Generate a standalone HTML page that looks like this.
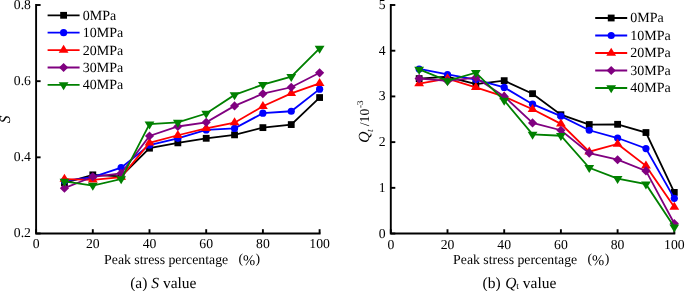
<!DOCTYPE html>
<html><head><meta charset="utf-8"><title>S and Qt values</title>
<style>
html,body{margin:0;padding:0;background:#fff;}
body{width:685px;height:291px;overflow:hidden;}
svg{display:block;font-family:"Liberation Serif",serif;will-change:transform;}
text{fill:#000;text-rendering:geometricPrecision;}
</style></head>
<body>
<svg width="685" height="291" viewBox="0 0 685 291">
<rect width="685" height="291" fill="#fff"/>
<path d="M36.10 5.00V233.50H319.60" fill="none" stroke="#000" stroke-width="1.9" stroke-linecap="square"/>
<line x1="36.10" y1="5.00" x2="40.60" y2="5.00" stroke="#000" stroke-width="1.9"/>
<text x="30.90" y="8.90" font-size="13.7" text-anchor="end">0.8</text>
<line x1="36.10" y1="81.17" x2="40.60" y2="81.17" stroke="#000" stroke-width="1.9"/>
<text x="30.90" y="85.07" font-size="13.7" text-anchor="end">0.6</text>
<line x1="36.10" y1="157.33" x2="40.60" y2="157.33" stroke="#000" stroke-width="1.9"/>
<text x="30.90" y="161.23" font-size="13.7" text-anchor="end">0.4</text>
<line x1="36.10" y1="233.50" x2="40.60" y2="233.50" stroke="#000" stroke-width="1.9"/>
<text x="30.90" y="237.40" font-size="13.7" text-anchor="end">0.2</text>
<line x1="36.10" y1="233.50" x2="36.10" y2="229.20" stroke="#000" stroke-width="1.9"/>
<text x="36.10" y="248.00" font-size="13.7" text-anchor="middle">0</text>
<line x1="92.80" y1="233.50" x2="92.80" y2="229.20" stroke="#000" stroke-width="1.9"/>
<text x="92.80" y="248.00" font-size="13.7" text-anchor="middle">20</text>
<line x1="149.50" y1="233.50" x2="149.50" y2="229.20" stroke="#000" stroke-width="1.9"/>
<text x="149.50" y="248.00" font-size="13.7" text-anchor="middle">40</text>
<line x1="206.20" y1="233.50" x2="206.20" y2="229.20" stroke="#000" stroke-width="1.9"/>
<text x="206.20" y="248.00" font-size="13.7" text-anchor="middle">60</text>
<line x1="262.90" y1="233.50" x2="262.90" y2="229.20" stroke="#000" stroke-width="1.9"/>
<text x="262.90" y="248.00" font-size="13.7" text-anchor="middle">80</text>
<line x1="319.60" y1="233.50" x2="319.60" y2="229.20" stroke="#000" stroke-width="1.9"/>
<text x="319.60" y="248.00" font-size="13.7" text-anchor="middle">100</text>
<polyline points="64.45,182.85 92.80,174.85 121.15,176.38 149.50,148.19 177.85,142.86 206.20,138.29 234.55,134.86 262.90,127.63 291.25,124.58 319.60,97.54" fill="none" stroke="#000000" stroke-width="1.8" stroke-linejoin="miter"/>
<rect x="61.05" y="179.45" width="6.8" height="6.8" fill="#000000"/>
<rect x="89.40" y="171.45" width="6.8" height="6.8" fill="#000000"/>
<rect x="117.75" y="172.98" width="6.8" height="6.8" fill="#000000"/>
<rect x="146.10" y="144.79" width="6.8" height="6.8" fill="#000000"/>
<rect x="174.45" y="139.46" width="6.8" height="6.8" fill="#000000"/>
<rect x="202.80" y="134.89" width="6.8" height="6.8" fill="#000000"/>
<rect x="231.15" y="131.46" width="6.8" height="6.8" fill="#000000"/>
<rect x="259.50" y="124.23" width="6.8" height="6.8" fill="#000000"/>
<rect x="287.85" y="121.18" width="6.8" height="6.8" fill="#000000"/>
<rect x="316.20" y="94.14" width="6.8" height="6.8" fill="#000000"/>
<polyline points="64.45,180.95 92.80,177.14 121.15,167.62 149.50,145.15 177.85,138.29 206.20,129.91 234.55,128.39 262.90,113.16 291.25,111.25 319.60,89.16" fill="none" stroke="#0000ff" stroke-width="1.8" stroke-linejoin="miter"/>
<circle cx="64.45" cy="180.95" r="3.6" fill="#0000ff"/>
<circle cx="92.80" cy="177.14" r="3.6" fill="#0000ff"/>
<circle cx="121.15" cy="167.62" r="3.6" fill="#0000ff"/>
<circle cx="149.50" cy="145.15" r="3.6" fill="#0000ff"/>
<circle cx="177.85" cy="138.29" r="3.6" fill="#0000ff"/>
<circle cx="206.20" cy="129.91" r="3.6" fill="#0000ff"/>
<circle cx="234.55" cy="128.39" r="3.6" fill="#0000ff"/>
<circle cx="262.90" cy="113.16" r="3.6" fill="#0000ff"/>
<circle cx="291.25" cy="111.25" r="3.6" fill="#0000ff"/>
<circle cx="319.60" cy="89.16" r="3.6" fill="#0000ff"/>
<polyline points="64.45,179.04 92.80,179.80 121.15,177.14 149.50,142.86 177.85,135.25 206.20,128.39 234.55,122.68 262.90,106.30 291.25,93.35 319.60,83.45" fill="none" stroke="#ff0000" stroke-width="1.8" stroke-linejoin="miter"/>
<path d="M64.45 173.71L69.35 181.71L59.55 181.71Z" fill="#ff0000"/>
<path d="M92.80 174.47L97.70 182.47L87.90 182.47Z" fill="#ff0000"/>
<path d="M121.15 171.80L126.05 179.80L116.25 179.80Z" fill="#ff0000"/>
<path d="M149.50 137.53L154.40 145.53L144.60 145.53Z" fill="#ff0000"/>
<path d="M177.85 129.91L182.75 137.91L172.95 137.91Z" fill="#ff0000"/>
<path d="M206.20 123.06L211.10 131.06L201.30 131.06Z" fill="#ff0000"/>
<path d="M234.55 117.34L239.45 125.34L229.65 125.34Z" fill="#ff0000"/>
<path d="M262.90 100.97L267.80 108.97L258.00 108.97Z" fill="#ff0000"/>
<path d="M291.25 88.02L296.15 96.02L286.35 96.02Z" fill="#ff0000"/>
<path d="M319.60 78.12L324.50 86.12L314.70 86.12Z" fill="#ff0000"/>
<polyline points="64.45,188.18 92.80,176.76 121.15,173.33 149.50,136.01 177.85,126.49 206.20,122.30 234.55,105.92 262.90,93.73 291.25,87.26 319.60,72.79" fill="none" stroke="#800080" stroke-width="1.8" stroke-linejoin="miter"/>
<path d="M64.45 183.58L69.05 188.18L64.45 192.78L59.85 188.18Z" fill="#800080"/>
<path d="M92.80 172.16L97.40 176.76L92.80 181.36L88.20 176.76Z" fill="#800080"/>
<path d="M121.15 168.73L125.75 173.33L121.15 177.93L116.55 173.33Z" fill="#800080"/>
<path d="M149.50 131.41L154.10 136.01L149.50 140.61L144.90 136.01Z" fill="#800080"/>
<path d="M177.85 121.89L182.45 126.49L177.85 131.09L173.25 126.49Z" fill="#800080"/>
<path d="M206.20 117.70L210.80 122.30L206.20 126.90L201.60 122.30Z" fill="#800080"/>
<path d="M234.55 101.32L239.15 105.92L234.55 110.52L229.95 105.92Z" fill="#800080"/>
<path d="M262.90 89.13L267.50 93.73L262.90 98.33L258.30 93.73Z" fill="#800080"/>
<path d="M291.25 82.66L295.85 87.26L291.25 91.86L286.65 87.26Z" fill="#800080"/>
<path d="M319.60 68.19L324.20 72.79L319.60 77.39L315.00 72.79Z" fill="#800080"/>
<polyline points="64.45,181.33 92.80,185.52 121.15,179.04 149.50,124.20 177.85,122.30 206.20,113.54 234.55,94.88 262.90,84.59 291.25,76.60 319.60,48.41" fill="none" stroke="#008000" stroke-width="1.8" stroke-linejoin="miter"/>
<path d="M64.45 186.66L69.35 178.66L59.55 178.66Z" fill="#008000"/>
<path d="M92.80 190.85L97.70 182.85L87.90 182.85Z" fill="#008000"/>
<path d="M121.15 184.37L126.05 176.37L116.25 176.37Z" fill="#008000"/>
<path d="M149.50 129.53L154.40 121.53L144.60 121.53Z" fill="#008000"/>
<path d="M177.85 127.63L182.75 119.63L172.95 119.63Z" fill="#008000"/>
<path d="M206.20 118.87L211.10 110.87L201.30 110.87Z" fill="#008000"/>
<path d="M234.55 100.21L239.45 92.21L229.65 92.21Z" fill="#008000"/>
<path d="M262.90 89.93L267.80 81.93L258.00 81.93Z" fill="#008000"/>
<path d="M291.25 81.93L296.15 73.93L286.35 73.93Z" fill="#008000"/>
<path d="M319.60 53.75L324.50 45.75L314.70 45.75Z" fill="#008000"/>
<line x1="47.60" y1="15.30" x2="79.60" y2="15.30" stroke="#000000" stroke-width="1.8"/>
<rect x="60.20" y="11.90" width="6.8" height="6.8" fill="#000000"/>
<text x="82.70" y="19.70" font-size="14.0">0MPa</text>
<line x1="47.60" y1="32.70" x2="79.60" y2="32.70" stroke="#0000ff" stroke-width="1.8"/>
<circle cx="63.60" cy="32.70" r="3.6" fill="#0000ff"/>
<text x="82.70" y="37.10" font-size="14.0">10MPa</text>
<line x1="47.60" y1="50.10" x2="79.60" y2="50.10" stroke="#ff0000" stroke-width="1.8"/>
<path d="M63.60 44.77L68.50 52.77L58.70 52.77Z" fill="#ff0000"/>
<text x="82.70" y="54.50" font-size="14.0">20MPa</text>
<line x1="47.60" y1="67.50" x2="79.60" y2="67.50" stroke="#800080" stroke-width="1.8"/>
<path d="M63.60 62.90L68.20 67.50L63.60 72.10L59.00 67.50Z" fill="#800080"/>
<text x="82.70" y="71.90" font-size="14.0">30MPa</text>
<line x1="47.60" y1="84.90" x2="79.60" y2="84.90" stroke="#008000" stroke-width="1.8"/>
<path d="M63.60 90.23L68.50 82.23L58.70 82.23Z" fill="#008000"/>
<text x="82.70" y="89.30" font-size="14.0">40MPa</text>
<text transform="translate(10.2 119.3) rotate(-90)" font-size="15.5" font-style="italic" text-anchor="middle">S</text>
<text x="104.1" y="263.8" font-size="13.8">Peak stress percentage</text>
<text x="238.40" y="262.7" font-size="13.8">(</text><text x="242.90" y="264.5" font-size="14.6">%</text><text x="255.50" y="262.7" font-size="13.8">)</text>
<text x="130.2" y="287.7" font-size="15.5">(a) <tspan font-style="italic">S</tspan> value</text>
<path d="M390.80 5.00V233.55H674.30" fill="none" stroke="#000" stroke-width="1.9" stroke-linecap="square"/>
<line x1="390.80" y1="5.00" x2="395.30" y2="5.00" stroke="#000" stroke-width="1.9"/>
<text x="385.60" y="9.00" font-size="13.7" text-anchor="end">5</text>
<line x1="390.80" y1="50.71" x2="395.30" y2="50.71" stroke="#000" stroke-width="1.9"/>
<text x="385.60" y="54.71" font-size="13.7" text-anchor="end">4</text>
<line x1="390.80" y1="96.42" x2="395.30" y2="96.42" stroke="#000" stroke-width="1.9"/>
<text x="385.60" y="100.42" font-size="13.7" text-anchor="end">3</text>
<line x1="390.80" y1="142.13" x2="395.30" y2="142.13" stroke="#000" stroke-width="1.9"/>
<text x="385.60" y="146.13" font-size="13.7" text-anchor="end">2</text>
<line x1="390.80" y1="187.84" x2="395.30" y2="187.84" stroke="#000" stroke-width="1.9"/>
<text x="385.60" y="191.84" font-size="13.7" text-anchor="end">1</text>
<line x1="390.80" y1="233.55" x2="395.30" y2="233.55" stroke="#000" stroke-width="1.9"/>
<text x="385.60" y="237.55" font-size="13.7" text-anchor="end">0</text>
<line x1="390.80" y1="233.55" x2="390.80" y2="229.25" stroke="#000" stroke-width="1.9"/>
<text x="390.80" y="248.85" font-size="13.7" text-anchor="middle">0</text>
<line x1="447.50" y1="233.55" x2="447.50" y2="229.25" stroke="#000" stroke-width="1.9"/>
<text x="447.50" y="248.85" font-size="13.7" text-anchor="middle">20</text>
<line x1="504.20" y1="233.55" x2="504.20" y2="229.25" stroke="#000" stroke-width="1.9"/>
<text x="504.20" y="248.85" font-size="13.7" text-anchor="middle">40</text>
<line x1="560.90" y1="233.55" x2="560.90" y2="229.25" stroke="#000" stroke-width="1.9"/>
<text x="560.90" y="248.85" font-size="13.7" text-anchor="middle">60</text>
<line x1="617.60" y1="233.55" x2="617.60" y2="229.25" stroke="#000" stroke-width="1.9"/>
<text x="617.60" y="248.85" font-size="13.7" text-anchor="middle">80</text>
<line x1="674.30" y1="233.55" x2="674.30" y2="229.25" stroke="#000" stroke-width="1.9"/>
<text x="674.30" y="248.85" font-size="13.7" text-anchor="middle">100</text>
<polyline points="419.15,78.59 447.50,76.76 475.85,84.08 504.20,80.65 532.55,93.68 560.90,114.70 589.25,124.53 617.60,124.30 645.95,132.53 674.30,192.41" fill="none" stroke="#000000" stroke-width="1.8" stroke-linejoin="miter"/>
<rect x="415.75" y="75.19" width="6.8" height="6.8" fill="#000000"/>
<rect x="444.10" y="73.36" width="6.8" height="6.8" fill="#000000"/>
<rect x="472.45" y="80.68" width="6.8" height="6.8" fill="#000000"/>
<rect x="500.80" y="77.25" width="6.8" height="6.8" fill="#000000"/>
<rect x="529.15" y="90.28" width="6.8" height="6.8" fill="#000000"/>
<rect x="557.50" y="111.30" width="6.8" height="6.8" fill="#000000"/>
<rect x="585.85" y="121.13" width="6.8" height="6.8" fill="#000000"/>
<rect x="614.20" y="120.90" width="6.8" height="6.8" fill="#000000"/>
<rect x="642.55" y="129.13" width="6.8" height="6.8" fill="#000000"/>
<rect x="670.90" y="189.01" width="6.8" height="6.8" fill="#000000"/>
<polyline points="419.15,68.99 447.50,74.48 475.85,79.51 504.20,87.42 532.55,104.19 560.90,116.08 589.25,130.25 617.60,138.02 645.95,148.53 674.30,198.35" fill="none" stroke="#0000ff" stroke-width="1.8" stroke-linejoin="miter"/>
<circle cx="419.15" cy="68.99" r="3.6" fill="#0000ff"/>
<circle cx="447.50" cy="74.48" r="3.6" fill="#0000ff"/>
<circle cx="475.85" cy="79.51" r="3.6" fill="#0000ff"/>
<circle cx="504.20" cy="87.42" r="3.6" fill="#0000ff"/>
<circle cx="532.55" cy="104.19" r="3.6" fill="#0000ff"/>
<circle cx="560.90" cy="116.08" r="3.6" fill="#0000ff"/>
<circle cx="589.25" cy="130.25" r="3.6" fill="#0000ff"/>
<circle cx="617.60" cy="138.02" r="3.6" fill="#0000ff"/>
<circle cx="645.95" cy="148.53" r="3.6" fill="#0000ff"/>
<circle cx="674.30" cy="198.35" r="3.6" fill="#0000ff"/>
<polyline points="419.15,83.62 447.50,78.59 475.85,87.28 504.20,96.56 532.55,109.22 560.90,123.85 589.25,151.73 617.60,143.96 645.95,165.90 674.30,207.04" fill="none" stroke="#ff0000" stroke-width="1.8" stroke-linejoin="miter"/>
<path d="M419.15 78.29L424.05 86.29L414.25 86.29Z" fill="#ff0000"/>
<path d="M447.50 73.26L452.40 81.26L442.60 81.26Z" fill="#ff0000"/>
<path d="M475.85 81.94L480.75 89.94L470.95 89.94Z" fill="#ff0000"/>
<path d="M504.20 91.22L509.10 99.22L499.30 99.22Z" fill="#ff0000"/>
<path d="M532.55 103.89L537.45 111.89L527.65 111.89Z" fill="#ff0000"/>
<path d="M560.90 118.51L565.80 126.51L556.00 126.51Z" fill="#ff0000"/>
<path d="M589.25 146.40L594.15 154.40L584.35 154.40Z" fill="#ff0000"/>
<path d="M617.60 138.63L622.50 146.63L612.70 146.63Z" fill="#ff0000"/>
<path d="M645.95 160.57L650.85 168.57L641.05 168.57Z" fill="#ff0000"/>
<path d="M674.30 201.70L679.20 209.70L669.40 209.70Z" fill="#ff0000"/>
<polyline points="419.15,78.59 447.50,80.88 475.85,77.68 504.20,96.42 532.55,122.93 560.90,130.25 589.25,153.10 617.60,159.73 645.95,170.93 674.30,223.49" fill="none" stroke="#800080" stroke-width="1.8" stroke-linejoin="miter"/>
<path d="M419.15 73.99L423.75 78.59L419.15 83.19L414.55 78.59Z" fill="#800080"/>
<path d="M447.50 76.28L452.10 80.88L447.50 85.48L442.90 80.88Z" fill="#800080"/>
<path d="M475.85 73.08L480.45 77.68L475.85 82.28L471.25 77.68Z" fill="#800080"/>
<path d="M504.20 91.82L508.80 96.42L504.20 101.02L499.60 96.42Z" fill="#800080"/>
<path d="M532.55 118.33L537.15 122.93L532.55 127.53L527.95 122.93Z" fill="#800080"/>
<path d="M560.90 125.65L565.50 130.25L560.90 134.85L556.30 130.25Z" fill="#800080"/>
<path d="M589.25 148.50L593.85 153.10L589.25 157.70L584.65 153.10Z" fill="#800080"/>
<path d="M617.60 155.13L622.20 159.73L617.60 164.33L613.00 159.73Z" fill="#800080"/>
<path d="M645.95 166.33L650.55 170.93L645.95 175.53L641.35 170.93Z" fill="#800080"/>
<path d="M674.30 218.89L678.90 223.49L674.30 228.09L669.70 223.49Z" fill="#800080"/>
<polyline points="419.15,69.45 447.50,80.88 475.85,72.65 504.20,100.53 532.55,134.36 560.90,135.73 589.25,167.73 617.60,178.70 645.95,184.18 674.30,227.06" fill="none" stroke="#008000" stroke-width="1.8" stroke-linejoin="miter"/>
<path d="M419.15 74.78L424.05 66.78L414.25 66.78Z" fill="#008000"/>
<path d="M447.50 86.21L452.40 78.21L442.60 78.21Z" fill="#008000"/>
<path d="M475.85 77.98L480.75 69.98L470.95 69.98Z" fill="#008000"/>
<path d="M504.20 105.87L509.10 97.87L499.30 97.87Z" fill="#008000"/>
<path d="M532.55 139.69L537.45 131.69L527.65 131.69Z" fill="#008000"/>
<path d="M560.90 141.06L565.80 133.06L556.00 133.06Z" fill="#008000"/>
<path d="M589.25 173.06L594.15 165.06L584.35 165.06Z" fill="#008000"/>
<path d="M617.60 184.03L622.50 176.03L612.70 176.03Z" fill="#008000"/>
<path d="M645.95 189.52L650.85 181.52L641.05 181.52Z" fill="#008000"/>
<path d="M674.30 232.39L679.20 224.39L669.40 224.39Z" fill="#008000"/>
<line x1="595.20" y1="18.00" x2="627.20" y2="18.00" stroke="#000000" stroke-width="1.8"/>
<rect x="607.80" y="14.60" width="6.8" height="6.8" fill="#000000"/>
<text x="630.30" y="22.40" font-size="14.0">0MPa</text>
<line x1="595.20" y1="35.50" x2="627.20" y2="35.50" stroke="#0000ff" stroke-width="1.8"/>
<circle cx="611.20" cy="35.50" r="3.6" fill="#0000ff"/>
<text x="630.30" y="39.90" font-size="14.0">10MPa</text>
<line x1="595.20" y1="53.00" x2="627.20" y2="53.00" stroke="#ff0000" stroke-width="1.8"/>
<path d="M611.20 47.67L616.10 55.67L606.30 55.67Z" fill="#ff0000"/>
<text x="630.30" y="57.40" font-size="14.0">20MPa</text>
<line x1="595.20" y1="70.50" x2="627.20" y2="70.50" stroke="#800080" stroke-width="1.8"/>
<path d="M611.20 65.90L615.80 70.50L611.20 75.10L606.60 70.50Z" fill="#800080"/>
<text x="630.30" y="74.90" font-size="14.0">30MPa</text>
<line x1="595.20" y1="88.00" x2="627.20" y2="88.00" stroke="#008000" stroke-width="1.8"/>
<path d="M611.20 93.33L616.10 85.33L606.30 85.33Z" fill="#008000"/>
<text x="630.30" y="92.40" font-size="14.0">40MPa</text>
<g transform="translate(369 0) rotate(-90)"><text x="-142.75" y="0" font-size="15.5" font-style="italic">Q</text><text x="-132" y="3.5" font-size="9.5" font-style="italic">t</text><text x="-126.2" y="0" font-size="13.7">/10</text><text x="-107.9" y="-6.3" font-size="9">-3</text></g>
<text x="453.10" y="263.8" font-size="13.8">Peak stress percentage</text>
<text x="587.60" y="262.7" font-size="13.8">(</text><text x="592.10" y="264.5" font-size="14.6">%</text><text x="604.70" y="262.7" font-size="13.8">)</text>
<text x="482.6" y="287.7" font-size="15.5">(b) <tspan font-style="italic" dx="0.6">Q</tspan><tspan font-size="9.5" dy="0.9">t</tspan><tspan dy="-0.9"> value</tspan></text>
</svg>
</body></html>
